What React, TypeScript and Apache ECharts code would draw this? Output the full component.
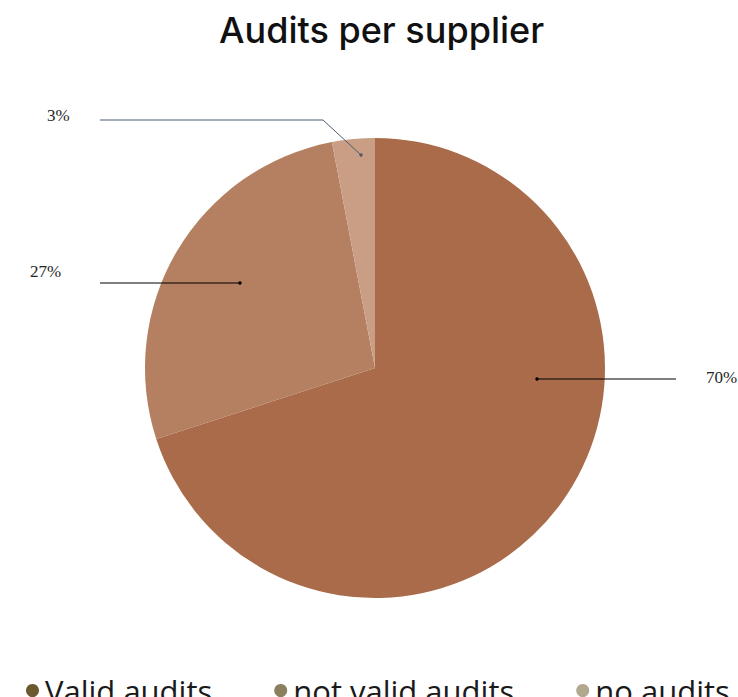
import React, { useEffect, useRef } from "react";
import * as echarts from "echarts";

const categories = ["Valid audits", "not valid audits", "no audits"];
const shares = [70, 27, 3];
const sliceColors = ["#a96b49", "#b57f61", "#c99e85"];
const legendColors = ["#6b5a2e", "#8a7f5e", "#b1a88f"];
const lineColors = ["#000000", "#000000", "#4a5d70"];

// label/leader layout (style only)
const labelLayouts = [
  { x: 706, y: 377, pts: [[537, 379], [676, 379]] },
  { x: 30, y: 271, pts: [[240, 283], [100, 283]] },
  { x: 47, y: 115, pts: [[361, 155], [323, 120], [100, 120]] },
];

export default function App() {
  const ref = useRef<HTMLDivElement>(null);
  useEffect(() => {
    const chart = echarts.init(ref.current!, undefined, { renderer: "svg" });
    const graphics: any[] = [];
    labelLayouts.forEach((l, i) => {
      graphics.push({
        type: "polyline",
        shape: { points: l.pts },
        style: { stroke: lineColors[i], lineWidth: 1, fill: null },
        z: 100,
        silent: true,
      });
      graphics.push({
        type: "circle",
        shape: { cx: l.pts[0][0], cy: l.pts[0][1], r: 1.7 },
        style: { fill: lineColors[i] },
        z: 101,
        silent: true,
      });
    });
    chart.setOption({
      animation: false,
      backgroundColor: "#ffffff",
      title: {
        text: "Audits per supplier",
        left: 214,
        top: 7,
        textStyle: {
          fontFamily: "Inter",
          fontSize: 36,
          fontWeight: 500,
          color: "#111111",
        },
      },
      legend: {
        left: 21,
        top: 670,
        width: 760,
        orient: "horizontal",
        icon: "circle",
        itemWidth: 13,
        itemHeight: 13,
        itemGap: 62,
        textStyle: {
          fontFamily: "Open Sans",
          fontSize: 31,
          color: "#1a1a1a",
          padding: [0, 0, 0, 1],
        },
        data: categories.map((c, i) => ({
          name: c,
          itemStyle: { color: legendColors[i] },
        })),
      },
      graphic: graphics,
      series: [
        {
          type: "pie",
          center: [375, 368],
          radius: [0, 230],
          startAngle: 90,
          clockwise: true,
          itemStyle: { borderWidth: 0 },
          emphasis: { disabled: true },
          label: {
            show: true,
            position: "outside",
            formatter: "{d}%",
            fontFamily: "Liberation Serif",
            fontSize: 17,
            color: "#262626",
          },
          labelLine: { show: false },
          labelLayout: (p: any) => {
            const l = labelLayouts[p.dataIndex];
            return {
              x: l.x,
              y: l.y,
              align: "left",
              verticalAlign: "middle",
            };
          },
          data: categories.map((c, i) => ({
            name: c,
            value: shares[i],
            itemStyle: { color: sliceColors[i] },
          })),
        },
      ],
    });
    return () => chart.dispose();
  }, []);
  return (
    <div
      ref={ref}
      style={{ position: "fixed", left: 0, top: 0, width: 738, height: 697 }}
    />
  );
}
